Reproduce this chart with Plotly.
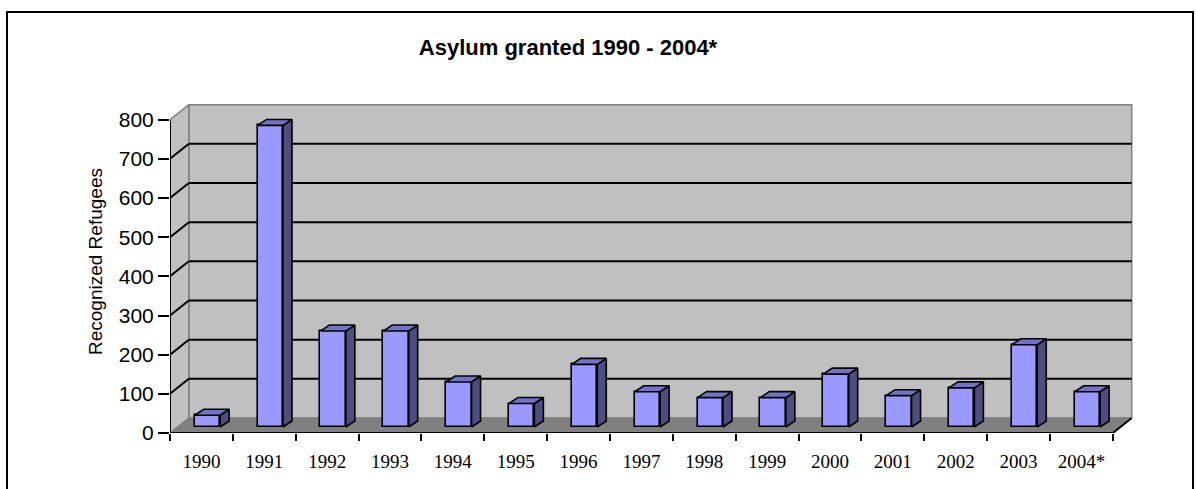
import plotly.graph_objects as go

# ---- data ----
years = ["1990", "1991", "1992", "1993", "1994", "1995", "1996", "1997",
         "1998", "1999", "2000", "2001", "2002", "2003", "2004*"]
refugees = [30, 770, 245, 245, 115, 60, 160, 90, 75, 75, 135, 80, 100, 210, 90]
y_ticks = [0, 100, 200, 300, 400, 500, 600, 700, 800]

# ---- layout geometry (pixels) ----
W_PX, H_PX = 1196, 489
L, R, T, B = 170, 58, 104, 56
PW = W_PX - L - R
PH = H_PX - T - B
X_MAX = 15.4
Y_MAX = 840.0
n = len(years)
ymax_axis = y_ticks[-1]

# 3D depth (data units)
DX, DY = 0.30, 38.3          # wall depth
OX, OY = 0.095, 15.3         # bar front-face offset
BW = 0.405                   # bar width
BDX, BDY = 0.143, 15.3       # bar depth

FRONT = "#9999FF"
SIDE = "#4D4D80"
TOP = "#7373C6"
WALL = "#C0C0C0"
FLOOR = "#808080"


def px2paper_x(px):
    return (px - L) / PW


def px2paper_y(py):
    return (H_PX - B - py) / PH


def poly_path(pts):
    return "M " + " L ".join(f"{x},{y}" for x, y in pts) + " Z"


shapes = []
# back wall
shapes.append(dict(type="path", xref="x", yref="y", layer="below",
                   path=poly_path([(DX, DY), (n + DX, DY), (n + DX, ymax_axis + DY), (DX, ymax_axis + DY)]),
                   fillcolor=WALL, line=dict(color=FLOOR, width=1.5)))
# left wall
shapes.append(dict(type="path", xref="x", yref="y", layer="below",
                   path=poly_path([(0, 0), (DX, DY), (DX, ymax_axis + DY), (0, ymax_axis)]),
                   fillcolor=WALL, line=dict(color=FLOOR, width=1.5)))
# floor
shapes.append(dict(type="path", xref="x", yref="y", layer="below",
                   path=poly_path([(0, 0), (n, 0), (n + DX, DY), (DX, DY)]),
                   fillcolor=FLOOR, line=dict(color=FLOOR, width=1)))
# gridlines on the walls
for v in y_ticks[1:-1]:
    shapes.append(dict(type="line", xref="x", yref="y", layer="below",
                       x0=DX, x1=n + DX, y0=v + DY, y1=v + DY,
                       line=dict(color="black", width=2)))
    shapes.append(dict(type="line", xref="x", yref="y", layer="below",
                       x0=0, x1=DX, y0=v, y1=v + DY,
                       line=dict(color="black", width=2)))
# floor right edge
shapes.append(dict(type="line", xref="x", yref="y", layer="above",
                   x0=n, x1=n + DX, y0=0, y1=DY, line=dict(color="black", width=2)))
# front axis lines
shapes.append(dict(type="line", xref="x", yref="y", layer="above",
                   x0=0, x1=n, y0=0, y1=0, line=dict(color="black", width=2)))
shapes.append(dict(type="line", xref="x", yref="y", layer="above",
                   x0=0, x1=0, y0=0, y1=ymax_axis, line=dict(color="black", width=2)))
# outer border
shapes.append(dict(type="rect", xref="paper", yref="paper", layer="above",
                   x0=px2paper_x(7), x1=px2paper_x(1193),
                   y0=px2paper_y(520), y1=px2paper_y(12),
                   line=dict(color="black", width=2), fillcolor="rgba(0,0,0,0)"))

fig = go.Figure()

centers = [i + 0.5 + OX for i in range(n)]

# side faces and top faces
side_x, side_y, top_x, top_y = [], [], [], []
for c, v in zip(centers, refugees):
    l, r = c - BW / 2, c + BW / 2
    side_x += [r, r + BDX, r + BDX, r, r, None]
    side_y += [OY, OY + BDY, OY + v + BDY, OY + v, OY, None]
    top_x += [l, l + BDX, r + BDX, r, l, None]
    top_y += [OY + v, OY + v + BDY, OY + v + BDY, OY + v, OY + v, None]

fig.add_trace(go.Bar(x=centers, y=refugees, base=OY, width=BW,
                     marker=dict(color=FRONT, line=dict(color="black", width=1.6)),
                     hoverinfo="skip", showlegend=False))
fig.add_trace(go.Scatter(x=side_x, y=side_y, mode="lines", fill="toself",
                         fillcolor=SIDE, line=dict(color="black", width=1.6),
                         hoverinfo="skip", showlegend=False))
fig.add_trace(go.Scatter(x=top_x, y=top_y, mode="lines", fill="toself",
                         fillcolor=TOP, line=dict(color="black", width=1.6),
                         hoverinfo="skip", showlegend=False))

fig.update_layout(
    width=W_PX, height=H_PX,
    margin=dict(l=L, r=R, t=T, b=B),
    paper_bgcolor="white", plot_bgcolor="white",
    shapes=shapes,
    bargap=0,
    title=dict(text="<b>Asylum granted 1990 - 2004*</b>",
               x=568 / W_PX, xanchor="center",
               y=1 - 47 / H_PX, yanchor="middle",
               font=dict(family="Liberation Sans, Arial", size=22, color="black")),
    xaxis=dict(range=[0, X_MAX], showgrid=False, zeroline=False, showline=False,
               tickmode="array", tickvals=[i + 0.5 for i in range(n)], ticktext=years,
               ticks="", ticklabelstandoff=15,
               tickfont=dict(family="Liberation Serif, Times New Roman", size=19, color="black"),
               minor=dict(tickmode="array", tickvals=list(range(n + 1)), ticks="outside",
                          ticklen=7, tickwidth=2, tickcolor="black", showgrid=False),
               fixedrange=True),
    yaxis=dict(range=[0, Y_MAX], showgrid=False, zeroline=False, showline=False,
               tickmode="array", tickvals=y_ticks,
               ticks="outside", ticklen=11, tickwidth=2, tickcolor="black",
               tickfont=dict(family="Liberation Sans, Arial", size=21, color="black"),
               fixedrange=True),
    annotations=[dict(text="Recognized Refugees", textangle=-90,
                      xref="paper", yref="paper",
                      x=px2paper_x(95), y=px2paper_y(262),
                      xanchor="center", yanchor="middle", showarrow=False,
                      font=dict(family="Liberation Sans, Arial", size=19, color="black"))],
)

fig.write_html("out.html")
